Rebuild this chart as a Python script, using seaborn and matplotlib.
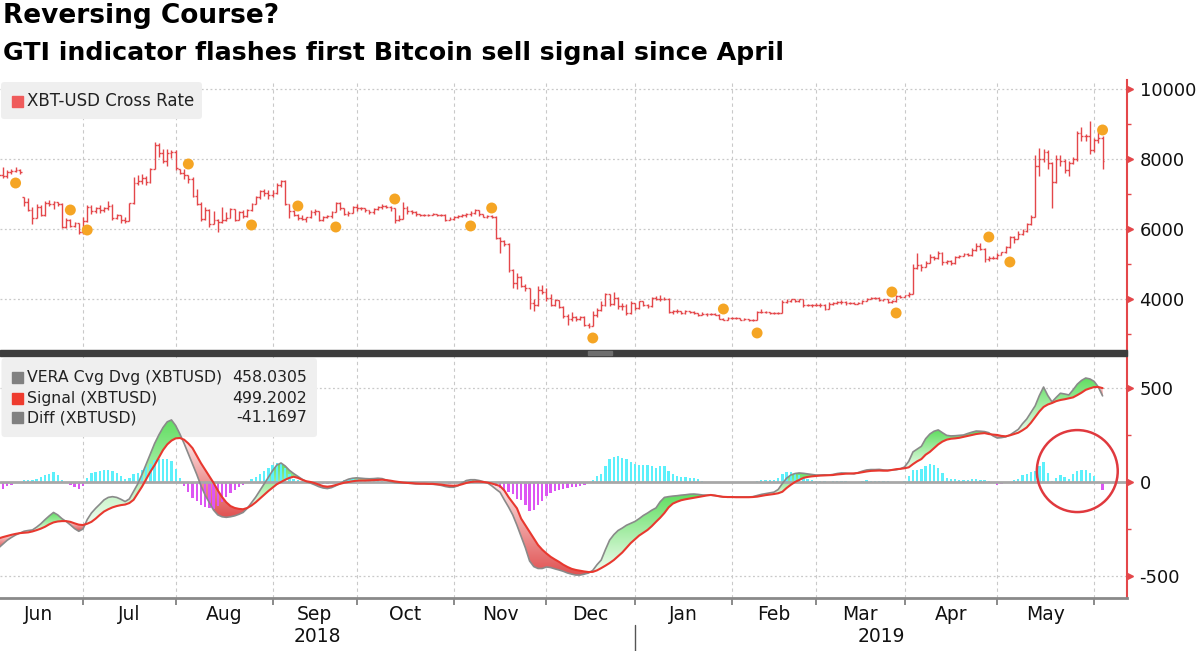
import numpy as np
import pandas as pd
import matplotlib
matplotlib.use("Agg")
import matplotlib.pyplot as plt
import matplotlib.transforms as mtransforms
from matplotlib.patches import Rectangle, FancyBboxPatch, Ellipse
import seaborn as sns

# XBT-USD daily bars, one per business day starting 2018-06-04
close_px = [
    7530,
    7500, 7630, 7660, 7690, 7620, 6780, 6550, 6310, 6640, 6400,
    6740, 6720, 6760, 6720, 6060, 6250, 6090, 6160, 5900, 6220,
    6620, 6510, 6590, 6530, 6600, 6670, 6300, 6390, 6250, 6240,
    6730, 7320, 7380, 7470, 7330, 7720, 8400, 8170, 7930, 8180,
    8210, 7730,
    7600, 7530, 7420, 6950, 6720, 6280, 6540, 6150, 6270, 6190,
    6270, 6310, 6580, 6270, 6480, 6370, 6530, 6720, 6900, 7080,
    7030, 6980, 7030,
    7270, 7370, 6700, 6510, 6410, 6300, 6280, 6330, 6490, 6500,
    6250, 6340, 6360, 6490, 6740, 6590, 6430, 6460, 6640, 6600,
    6590, 6530, 6480, 6580, 6630, 6660, 6640, 6590, 6250, 6290,
    6600, 6500, 6480, 6420, 6390, 6410, 6400, 6420, 6400, 6410,
    6270, 6280, 6330,
    6370, 6400, 6420, 6470, 6530, 6420, 6350, 6370, 6330, 5740,
    5650, 5580, 4820, 4470, 4620, 4370, 4310, 3880, 3820, 4260,
    4210, 4020,
    3820, 3960, 3760, 3510, 3430, 3490, 3420, 3490, 3250, 3230,
    3530, 3680, 3820, 4140, 3860, 4040, 3800, 3810, 3600, 3880,
    3740,
    3940, 3840, 3790, 4040, 4010, 4000, 4000, 3640, 3650, 3660,
    3600, 3650, 3640, 3610, 3540, 3580, 3560, 3580, 3550, 3440,
    3410, 3450, 3450,
    3460, 3410, 3440, 3400, 3400, 3630, 3630, 3620, 3600, 3590,
    3610, 3910, 3950, 3990, 3930, 3990, 3840, 3830, 3840, 3830,
    3830, 3720, 3870, 3880, 3900, 3920, 3880, 3890, 3870, 3880,
    3950, 4000, 4020, 4030, 3970, 3990, 3920, 3940, 4090, 4070,
    4110,
    4140, 4880, 4970, 4910, 5040, 5200, 5160, 5310, 5070, 5090,
    5030, 5200, 5230, 5280, 5270, 5400, 5510, 5440, 5150, 5170,
    5170, 5270,
    5330, 5490, 5760, 5720, 5860, 5950, 6150, 6350, 7810, 7990,
    8190, 7880, 7350, 8000, 7950, 7680, 7880, 7990, 8740, 8660,
    8660, 8270, 8550,
    8600, 7950,
]
high_px = [
    7600,
    7760, 7690, 7700, 7760, 7700, 6900, 6880, 6620, 6700, 6680,
    6790, 6830, 6800, 6780, 6730, 6300, 6290, 6190, 6180, 6330,
    6680, 6680, 6640, 6680, 6640, 6800, 6700, 6420, 6400, 6340,
    6750, 7480, 7550, 7560, 7500, 7750, 8480, 8450, 8280, 8290,
    8270, 8250,
    7700, 7700, 7530, 7480, 7150, 6760, 6620, 6560, 6510, 6290,
    6620, 6480, 6600, 6580, 6500, 6530, 6560, 6750, 6930, 7120,
    7140, 7100, 7100,
    7300, 7400, 7390, 6720, 6550, 6420, 6400, 6350, 6540, 6580,
    6520, 6380, 6400, 6520, 6780, 6760, 6600, 6500, 6650, 6700,
    6620, 6600, 6550, 6600, 6650, 6700, 6680, 6660, 6600, 6400,
    6780, 6650, 6540, 6500, 6440, 6440, 6430, 6460, 6440, 6430,
    6420, 6330, 6360,
    6400, 6440, 6450, 6500, 6560, 6540, 6440, 6400, 6400, 6360,
    5780, 5680, 5600, 4870, 4740, 4650, 4430, 4320, 4000, 4360,
    4400, 4310,
    4150, 4000, 3970, 3800, 3580, 3620, 3510, 3520, 3500, 3300,
    3660, 3750, 3950, 4180, 4150, 4200, 4060, 3880, 3850, 3950,
    3880,
    3950, 3950, 3850, 4060, 4090, 4100, 4060, 4020, 3680, 3700,
    3660, 3690, 3670, 3660, 3610, 3620, 3600, 3610, 3590, 3560,
    3450, 3480, 3480,
    3490, 3470, 3460, 3440, 3430, 3660, 3700, 3660, 3640, 3620,
    3640, 3960, 4000, 3990, 4000, 4000, 3990, 3860, 3860, 3880,
    3880, 3850, 3900, 3920, 3930, 3960, 3930, 3920, 3900, 3910,
    3970, 4030, 4050, 4060, 4050, 4010, 4000, 3960, 4100, 4110,
    4120,
    4200, 5000, 5300, 5000, 5080, 5280, 5220, 5360, 5330, 5120,
    5120, 5230, 5260, 5300, 5320, 5450, 5610, 5600, 5460, 5220,
    5230, 5300,
    5350, 5520, 5800, 5800, 5950, 6000, 6180, 6400, 8100, 8300,
    8280, 8250, 7900, 8100, 8100, 8000, 7950, 8050, 8800, 8900,
    8700, 9090, 8600,
    8800, 8650,
]
low_px = [
    7450,
    7450, 7470, 7560, 7620, 7560, 6650, 6500, 6140, 6300, 6360,
    6370, 6650, 6580, 6660, 6020, 6040, 6060, 6050, 5860, 5860,
    6200, 6440, 6450, 6470, 6480, 6550, 6260, 6290, 6180, 6160,
    6240, 6710, 7250, 7290, 7260, 7310, 7700, 8050, 7880, 7800,
    8020, 7680,
    7560, 7420, 7320, 6900, 6690, 6230, 6250, 6050, 6130, 5900,
    6170, 6230, 6300, 6240, 6270, 6300, 6330, 6500, 6700, 6870,
    6940, 6860, 6900,
    6990, 7200, 6680, 6300, 6380, 6270, 6250, 6200, 6300, 6400,
    6230, 6220, 6300, 6320, 6480, 6550, 6400, 6380, 6450, 6500,
    6540, 6480, 6420, 6440, 6550, 6560, 6590, 6520, 6180, 6220,
    6280, 6440, 6420, 6380, 6360, 6370, 6380, 6390, 6370, 6380,
    6230, 6250, 6260,
    6300, 6340, 6340, 6370, 6440, 6380, 6330, 6320, 6300, 5700,
    5320, 5500, 4760, 4300, 4280, 4340, 4220, 3700, 3650, 3800,
    4150, 3950,
    3790, 3790, 3730, 3470, 3250, 3380, 3370, 3410, 3230, 3180,
    3220, 3480, 3660, 3800, 3790, 3820, 3720, 3680, 3550, 3570,
    3680,
    3700, 3810, 3750, 3780, 3980, 3950, 3970, 3600, 3580, 3590,
    3560, 3570, 3600, 3580, 3510, 3530, 3520, 3540, 3530, 3420,
    3390, 3410, 3420,
    3430, 3390, 3400, 3380, 3380, 3390, 3600, 3590, 3570, 3560,
    3580, 3600, 3880, 3900, 3920, 3920, 3780, 3790, 3780, 3790,
    3780, 3680, 3700, 3840, 3860, 3870, 3840, 3860, 3850, 3850,
    3860, 3940, 3990, 3990, 3950, 3950, 3890, 3880, 3920, 4040,
    4050,
    4060, 4140, 4850, 4800, 4920, 5040, 5120, 5140, 4980, 5000,
    4980, 5000, 5170, 5220, 5230, 5240, 5370, 5400, 5060, 5080,
    5140, 5130,
    5250, 5300, 5470, 5600, 5700, 5830, 5920, 6120, 6350, 7500,
    7900, 7700, 6600, 7300, 7800, 7600, 7520, 7850, 7950, 8500,
    8500, 8150, 8200,
    8450, 7700,
]

# GTI signal dots (business-day position, price)
gti_pos = [5, 18, 22, 46, 61, 72, 81, 95, 113, 118, 142, 173, 181, 213, 214, 236, 241, 263]
gti_px = [7314, 6543, 5971, 7857, 6114, 6657, 6057, 6857, 6086, 6600,
          2886, 3714, 3029, 4200, 3600, 5771, 5057, 8829]

# VERA Cvg Dvg and its signal line, same business-day positions
vera = [
    -350, -330, -310, -295, -282, -272, -262, -258, -255, -240,
    -222, -200, -180, -162, -175, -195, -210, -228, -248, -262,
    -250, -200, -165, -140, -118, -95, -82, -78, -82, -92,
    -104, -90, -50, -10, 40, 95, 150, 205, 250, 290,
    320, 330, 300, 255, 205, 150, 95, 40, -20, -70,
    -110, -150, -175, -185, -188, -185, -180, -172, -162, -140,
    -110, -80, -45, -10, 25, 60, 90, 101, 85, 62,
    45, 30, 15, 2, -6, -15, -25, -32, -35, -30,
    -20, -8, 5, 15, 20, 22, 20, 18, 17, 18,
    20, 18, 10, 2, -3, -5, -5, -6, -8, -10,
    -10, -10, -11, -12, -14, -18, -24, -28, -28, -20,
    -5, 8, 12, 12, 8, 2, -5, -20, -38, -55,
    -95, -133, -175, -230, -290, -350, -420, -450, -460, -460,
    -452, -455, -462, -468, -475, -484, -490, -495, -495, -490,
    -484, -470, -440, -415, -360, -309, -280, -258, -245, -230,
    -220, -210, -195, -178, -165, -150, -138, -105, -82, -78,
    -75, -73, -70, -68, -65, -64, -66, -69, -70, -70,
    -72, -76, -80, -81, -81, -80, -80, -80, -80, -78,
    -72, -66, -62, -58, -54, -40, -8, 20, 37, 45,
    48, 46, 43, 40, 37, 37, 38, 37, 40, 45,
    48, 47, 45, 43, 50, 58, 64, 66, 66, 67,
    64, 63, 64, 65, 70, 80, 110, 160, 175, 190,
    230, 255, 270, 277, 262, 248, 245, 246, 248, 250,
    258, 265, 271, 270, 268, 262, 245, 234, 236, 240,
    250, 265, 280, 310, 335, 370, 405, 460, 505, 460,
    426, 450, 472, 468, 463, 490, 520, 540, 553, 548,
    535, 505, 458.0305,
]
signal = [
    -300, -293, -287, -281, -276, -272, -270, -268, -263, -256,
    -248, -238, -225, -215, -210, -208, -208, -212, -220, -227,
    -229, -222, -212, -195, -175, -157, -145, -135, -128, -123,
    -120, -112, -95, -60, -25, 15, 55, 90, 130, 170,
    200, 220, 232, 234, 225, 205, 180, 140, 100, 65,
    30, -5, -45, -80, -108, -128, -138, -143, -145, -138,
    -125, -108, -88, -68, -48, -30, -12, 0, 12, 22,
    28, 22, 12, 4, 0, -6, -14, -22, -25, -22,
    -16, -10, -4, 0, 4, 7, 8, 8, 9, 10,
    11, 12, 10, 7, 3, 0, -3, -5, -6, -8,
    -9, -9, -10, -10, -12, -14, -17, -19, -20, -18,
    -12, -5, 0, 2, 2, 0, -3, -8, -14, -22,
    -45, -80, -110, -140, -195, -230, -265, -300, -335, -360,
    -380, -398, -412, -425, -440, -452, -462, -468, -472, -476,
    -479, -478, -470, -458, -445, -431, -415, -395, -375, -350,
    -325, -305, -285, -270, -255, -235, -212, -190, -165, -135,
    -115, -105, -97, -92, -88, -84, -80, -76, -72, -69,
    -72, -76, -79, -80, -80, -81, -81, -81, -81, -80,
    -78, -74, -70, -67, -64, -60, -52, -32, -15, 0,
    11, 22, 27, 30, 32, 34, 35, 36, 37, 40,
    42, 44, 45, 46, 48, 52, 56, 59, 60, 61,
    60, 60, 64, 68, 70, 73, 78, 95, 110, 122,
    145, 160, 180, 200, 215, 225, 230, 232, 235, 240,
    245, 250, 255, 258, 260, 255, 252, 250, 245, 243,
    248, 255, 262, 275, 290, 315, 345, 375, 399, 412,
    420, 430, 436, 440, 445, 450, 462, 475, 490, 498,
    505, 505, 499.2002,
]

sns.set_theme(style="white")
plt.rcParams["font.family"] = ["DejaVu Sans"]

RED = "#e4474a"
GRID = "#c9c9c9"
TXT = "#111111"

close = np.array(close_px, float)
high = np.array(high_px, float)
low = np.array(low_px, float)
vera = np.array(vera, float)
signal = np.array(signal, float)
diff = vera - signal
pos = np.arange(1, len(close) + 1)

days = pd.bdate_range("2018-06-01", "2019-06-28")
starts = [k for k in range(1, len(days)) if days[k].month != days[k - 1].month]
bounds = [0] + starts[:12]
centers = [(bounds[k] + bounds[k + 1]) / 2 for k in range(12)]
names = [days[b].strftime("%b") for b in bounds[:12]]
jan = bounds[7]
XLIM = (1.3, 268.8)

W, H = 1200, 651
fig = plt.figure(figsize=(W / 100, H / 100), dpi=100)


def fy(py):
    return 1 - py / H


ax1 = fig.add_axes([0, fy(353), 1127 / W, (353 - 80) / H])
ax2 = fig.add_axes([0, fy(598), 1127 / W, (598 - 353) / H])

# ---- top panel: price bars
opens = np.clip(np.r_[close[0], close[:-1]], low, high)
ax1.vlines(pos, low, high, color=RED, lw=1.0, zorder=3)
ax1.hlines(opens, pos - 0.45, pos, color=RED, lw=1.0, zorder=3)
ax1.hlines(close, pos, pos + 0.45, color=RED, lw=1.0, zorder=3)
sns.scatterplot(x=gti_pos, y=gti_px, ax=ax1, color="#f5a524", s=62,
                edgecolor="none", zorder=4, legend=False)


def gradient_fill(ax, x, a, b, where, top_col, bottom_col):
    coll = ax.fill_between(x, a, b, where=where, interpolate=True,
                           facecolor="none", edgecolor="none")
    t = np.linspace(0, 1, 200)[:, None]
    grad = ((1 - t) * np.array(top_col) + t * np.array(bottom_col))[:, None, :]
    for path in coll.get_paths():
        v = path.vertices
        if len(v) < 3:
            continue
        y0, y1 = v[:, 1].min(), v[:, 1].max()
        if y1 - y0 < 1e-6:
            continue
        im = ax.imshow(grad, extent=(v[:, 0].min(), v[:, 0].max(), y0, y1),
                       origin="upper", aspect="auto", interpolation="bilinear", zorder=1)
        im.set_clip_path(path, transform=ax.transData)


# ---- bottom panel: indicator
gradient_fill(ax2, pos, vera, signal, vera >= signal, (0.38, 0.87, 0.38), (0.94, 0.99, 0.94))
gradient_fill(ax2, pos, vera, signal, vera <= signal, (0.99, 0.91, 0.91), (0.88, 0.32, 0.32))
ax2.bar(pos, diff, width=0.55, color=np.where(diff >= 0, "#5cf0fb", "#dd55f3"),
        linewidth=0, zorder=2)
ax2.axhline(0, color="#a8a8a8", lw=2, zorder=2.5)
sns.lineplot(x=pos, y=vera, ax=ax2, color="#8a8a8a", lw=1.2, zorder=3)
sns.lineplot(x=pos, y=signal, ax=ax2, color="#e8382f", lw=1.5, zorder=4)
ax2.add_patch(Ellipse((257.0, 58), 19.2, 436, fill=False, ec="#e0393e", lw=1.8, zorder=6))

# ---- axes styling
for ax, lim, major, minor, labels in [
    (ax1, (2457, 10257), [4000, 6000, 8000, 10000], [3000, 5000, 7000, 9000],
     ["4000", "6000", "8000", "10000"]),
    (ax2, (-617, 686), [-500, 0, 500], [-250, 250], ["-500", "0", "500"]),
]:
    ax.set_xlim(*XLIM)
    ax.set_ylim(*lim)
    ax.set_xlabel("")
    ax.set_ylabel("")
    for s in ["top", "left", "bottom"]:
        ax.spines[s].set_visible(False)
    ax.spines["right"].set_color(RED)
    ax.spines["right"].set_linewidth(1.5)
    ax.yaxis.tick_right()
    ax.set_yticks(major)
    ax.set_yticklabels(labels)
    ax.set_yticks(minor, minor=True)
    ax.tick_params(axis="y", which="major", length=0, pad=9, labelsize=13, labelcolor=TXT)
    ax.tick_params(axis="y", which="minor", length=3, width=1, color=RED, direction="out")
    for b in bounds[1:]:
        ax.axvline(b, color=GRID, lw=0.8, ls=(0, (3, 3)), zorder=0)
    for g in major:
        if g != 0:
            ax.axhline(g, color=GRID, lw=0.9, ls=(0, (1.5, 2)), zorder=0)
    tri = mtransforms.offset_copy(ax.get_yaxis_transform(), fig=fig, x=2.5, units="points")
    ax.plot(np.ones(len(major)), major, ls="none", marker=">", ms=5, color=RED,
            transform=tri, clip_on=False, zorder=5)

ax1.set_xticks([])
ax2.spines["bottom"].set_visible(True)
ax2.spines["bottom"].set_color("#8a8a8a")
ax2.spines["bottom"].set_linewidth(2)
ax2.set_xticks(bounds[1:])
ax2.set_xticklabels([""] * len(bounds[1:]))
ax2.set_xticks(centers, minor=True)
ax2.set_xticklabels(names, minor=True)
ax2.tick_params(axis="x", which="major", length=5, width=1.2, color="#777777", direction="out", bottom=True)
ax2.tick_params(axis="x", which="minor", length=0, pad=5, labelsize=13.5, labelcolor=TXT, bottom=True)

xt = mtransforms.blended_transform_factory(ax2.transData, ax2.transAxes)
ax2.text((XLIM[0] + jan) / 2, -0.159, "2018", transform=xt, ha="center", va="center",
         fontsize=13.5, color=TXT)
ax2.text((jan + XLIM[1]) / 2, -0.159, "2019", transform=xt, ha="center", va="center",
         fontsize=13.5, color=TXT)
ax2.plot([jan, jan], [-0.11, -0.22], transform=xt, color="#555555", lw=1, clip_on=False)

# separator between the panels
fig.patches.append(Rectangle((0, fy(356)), 1127 / W, 6 / H, transform=fig.transFigure,
                             color="#3d3d3d", zorder=10))
fig.patches.append(Rectangle((588 / W, fy(355)), 24 / W, 4 / H, transform=fig.transFigure,
                             color="#6e6e6e", zorder=11))

# legends (boxes sit under the lines, text on top)
ax1.add_patch(FancyBboxPatch((1 / 1127, 0.857), 201 / 1127, 0.1355,
                             boxstyle="round,pad=0,rounding_size=0.003", mutation_aspect=4.1,
                             transform=ax1.transAxes, fc="#efefef", ec="none", zorder=0.5))
ax1.add_patch(Rectangle((12 / 1127, 0.923 - 5.5 / 273), 11 / 1127, 11 / 273,
                        transform=ax1.transAxes, color="#ef5b5b", zorder=7))
ax1.text(27 / 1127, 0.923, "XBT-USD Cross Rate", transform=ax1.transAxes, va="center",
         fontsize=12, color="#222222", zorder=7)

ax2.add_patch(FancyBboxPatch((1.5 / 1127, 0.657), 315.5 / 1127, 0.322,
                             boxstyle="round,pad=0,rounding_size=0.003", mutation_aspect=4.6,
                             transform=ax2.transAxes, fc="#efefef", ec="none", zorder=0.5))
leg_names = ["VERA Cvg Dvg (XBTUSD)", "Signal (XBTUSD)", "Diff (XBTUSD)"]
leg_vals = ["%.4f" % vera[-1], "%.4f" % signal[-1], "%.4f" % diff[-1]]
leg_cols = ["#808080", "#ee3b2e", "#808080"]
for yy, nm, vl, cl in zip([0.898, 0.816, 0.735], leg_names, leg_vals, leg_cols):
    ax2.add_patch(Rectangle((12 / 1127, yy - 5.5 / 245), 11 / 1127, 11 / 245,
                            transform=ax2.transAxes, color=cl, zorder=7))
    ax2.text(27 / 1127, yy, nm, transform=ax2.transAxes, va="center", fontsize=11.3,
             color="#222222", zorder=7)
    ax2.text(307 / 1127, yy, vl, transform=ax2.transAxes, va="center", ha="right",
             fontsize=11.3, color="#222222", zorder=7)

# titles
fig.text(3 / W, fy(3), "Reversing Course?", fontsize=19, fontweight="bold", va="top", color="#000000")
fig.text(3 / W, fy(41), "GTI indicator flashes first Bitcoin sell signal since April",
         fontsize=18.2, fontweight="bold", va="top", color="#000000")

fig.savefig("out.png", dpi=100)
